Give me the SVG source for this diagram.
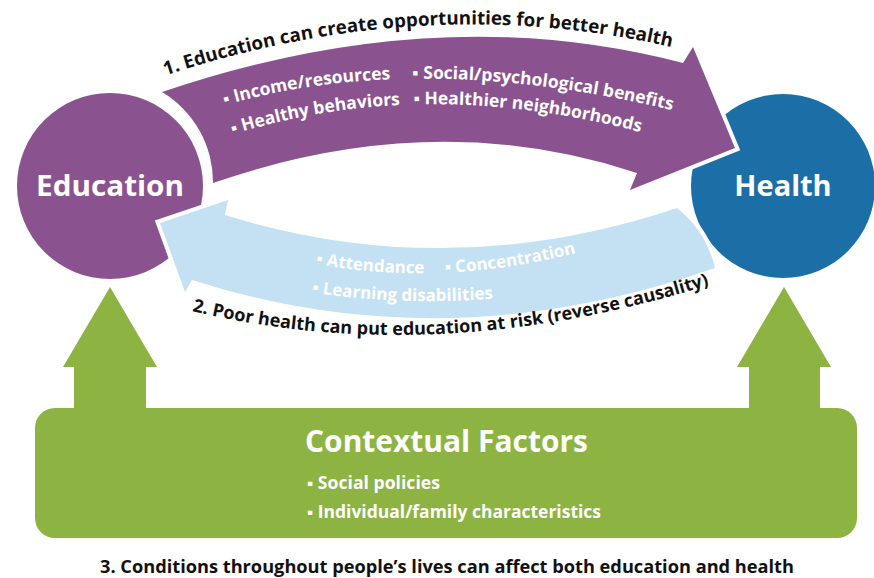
<svg xmlns="http://www.w3.org/2000/svg" xmlns:xlink="http://www.w3.org/1999/xlink" width="874" height="578" viewBox="0 0 874 578">
<defs>
<style>
.t{font-family:"Open Sans","Noto Sans","Liberation Sans",sans-serif;font-weight:700}
.wt{fill:#ffffff}
.bk{fill:#111111}
.node-title{font-size:29px;fill:#ffffff;text-anchor:middle}
.item{font-size:17.5px}
.item2{font-size:17px}
.lbl{font-size:18.8px}
.arrow{stroke:#ffffff;stroke-width:8;stroke-linejoin:miter;paint-order:stroke}
</style>
<path id="p1" d="M 158,78 Q 430,-14 692,52"/>
<path id="pa" d="M 222,106 Q 420,48 684,113"/>
<path id="pb" d="M 228,136 Q 420,74 644,133"/>
<path id="pc" d="M 308,262 Q 440,290 592,249"/>
<path id="pd" d="M 308,292 Q 410,308 522,296"/>
<path id="p2" d="M 188,310 Q 440,372 725,280"/>
</defs>
<rect width="874" height="578" fill="#ffffff"/>

<g id="education">
<circle cx="110" cy="186" r="93" fill="#8a5390"/>
<text class="t node-title" x="110" y="196" textLength="148" lengthAdjust="spacingAndGlyphs">Education</text>
</g>

<g id="health">
<circle cx="783" cy="186" r="92" fill="#1b6fa6"/>
<text class="t node-title" x="783" y="196">Health</text>
</g>

<g id="contextual-factors">
<rect x="35" y="408" width="822" height="130" rx="20" ry="20" fill="#8db443"/>
<text class="t wt" x="305" y="452" font-size="31" textLength="283" lengthAdjust="spacingAndGlyphs">Contextual Factors</text>
<text class="t wt" x="307" y="489" font-size="17" textLength="133" lengthAdjust="spacingAndGlyphs">▪ Social policies</text>
<text class="t wt" x="307" y="518" font-size="17" textLength="294" lengthAdjust="spacingAndGlyphs">▪ Individual/family characteristics</text>
</g>

<g id="connectors">
<g id="edu-to-health">
<path class="arrow" fill="#8a5390" d="M 162,92 Q 437.5,-1.5 683,63 L 693,47 L 735,148 L 630,190 L 637,173 Q 435,106 213,183 A 105 105 0 0 0 162,92 Z"/>
<text class="t bk lbl"><textPath xlink:href="#p1" href="#p1" startOffset="8">1. Education can create opportunities for better health</textPath></text>
<text class="t wt item"><textPath xlink:href="#pa" href="#pa" startOffset="3">▪ Income/resources</textPath></text>
<text class="t wt item"><textPath xlink:href="#pa" href="#pa" startOffset="193">▪ Social/psychological benefits</textPath></text>
<text class="t wt item"><textPath xlink:href="#pb" href="#pb" startOffset="5">▪ Healthy behaviors</textPath></text>
<text class="t wt item"><textPath xlink:href="#pb" href="#pb" startOffset="189">▪ Healthier neighborhoods</textPath></text>
</g>
<g id="health-to-edu">
<path class="arrow" fill="#c4e1f3" d="M 677,208 Q 449,284.5 225,215 L 228,200 L 160,223 L 185,292 L 192,280 Q 446.5,362 715,268 A 108 108 0 0 0 677,208 Z"/>
<text class="t wt item2"><textPath xlink:href="#pc" href="#pc" startOffset="8">▪ Attendance</textPath></text>
<text class="t wt item2"><textPath xlink:href="#pc" href="#pc" startOffset="138">▪ Concentration</textPath></text>
<text class="t wt item2"><textPath xlink:href="#pd" href="#pd" startOffset="4">▪ Learning disabilities</textPath></text>
<text class="t bk" font-size="18"><textPath xlink:href="#p2" href="#p2" startOffset="4">2. Poor health can put education at risk (reverse causality)</textPath></text>
</g>
<g id="context-to-edu">
<path fill="#8db443" d="M 74,410 L 74,367 L 63,367 L 110,287 L 157,367 L 146,367 L 146,410 Z"/>
</g>
<g id="context-to-health">
<path fill="#8db443" d="M 749,410 L 749,367 L 737,367 L 784,287 L 831,367 L 820,367 L 820,410 Z"/>
</g>
</g>

<text class="t bk" x="100" y="573" font-size="18.5" textLength="694" lengthAdjust="spacingAndGlyphs">3. Conditions throughout people’s lives can affect both education and health</text>
</svg>
